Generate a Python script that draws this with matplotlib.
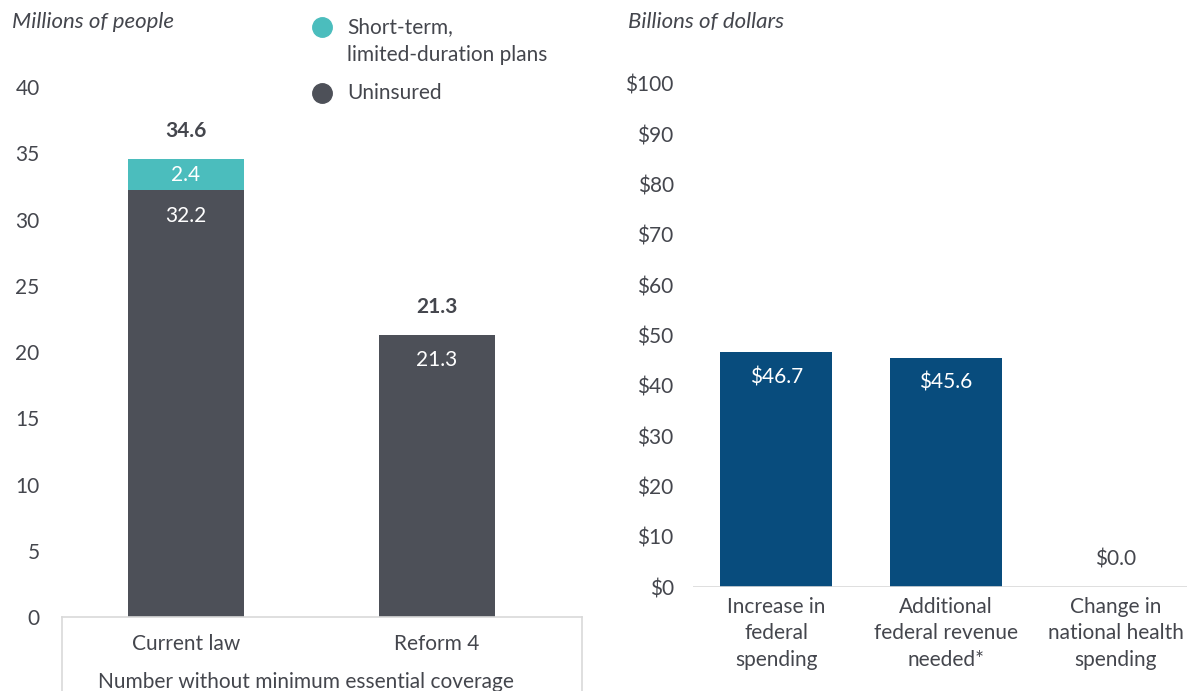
import matplotlib.pyplot as plt
from matplotlib.lines import Line2D

# left panel: people without minimum essential coverage (millions)
cov_cats = ['Current law', 'Reform 4']
uninsured = [32.2, 21.3]
short_term = [2.4, 0.0]
cov_totals = [34.6, 21.3]

# right panel: budget effects (billions of dollars)
cost_cats = ['Increase in\nfederal\nspending', 'Additional\nfederal revenue\nneeded*',
             'Change in\nnational health\nspending']
cost_vals = [46.7, 45.6, 0.0]

teal = '#4bbdbd'
dark = '#4d5058'
navy = '#084c7d'
txt = '#44464d'
grid = '#d9d9d9'

plt.rcParams['font.family'] = ['Lato', 'DejaVu Sans']
fs = 15
fs_it = 16

fig = plt.figure(figsize=(11.87, 6.91), dpi=100)

# ---- left chart
ax1 = fig.add_axes([0.0522, 0.107, 0.438, 0.767])
x1 = range(len(cov_cats))
ax1.bar(x1, uninsured, width=0.46, color=dark)
ax1.bar(x1, short_term, width=0.46, bottom=uninsured, color=teal)
ax1.set_ylim(0, 40)
ax1.set_xlim(-0.494, 1.578)
ax1.set_yticks(range(0, 41, 5))
ax1.set_xticks([])
for s in ax1.spines.values():
    s.set_visible(False)
ax1.tick_params(axis='y', length=0, labelsize=fs, labelcolor=txt, pad=16)
ax1.axhline(0, color=grid, lw=1.2, clip_on=False)
for xx in ax1.get_xlim():
    ax1.plot([xx, xx], [0, -5.6], color=grid, lw=1.2, clip_on=False)

for i in x1:
    ax1.text(i, uninsured[i] - 1.9, f'{uninsured[i]:.1f}', ha='center', va='center',
             color='white', fontsize=fs)
    if short_term[i] > 0:
        ax1.text(i, uninsured[i] + short_term[i] / 2, f'{short_term[i]:.1f}',
                 ha='center', va='center', color='white', fontsize=fs)
    ax1.text(i, cov_totals[i] + 2.1, f'{cov_totals[i]:.1f}', ha='center', va='center',
             color=txt, fontsize=fs, fontweight='bold')
    ax1.text(i, -2.0, cov_cats[i], ha='center', va='center', color=txt, fontsize=fs)
ax1.text(0.478, -4.9, 'Number without minimum essential coverage', ha='center',
         va='center', color=txt, fontsize=fs)

fig.text(12 / 1187, 1 - 22 / 691, 'Millions of people', style='italic',
         ha='left', va='center', color=txt, fontsize=fs_it)

# legend
fig.add_artist(Line2D([322 / 1187], [1 - 27 / 691], marker='o', ms=14, color=teal, lw=0))
fig.add_artist(Line2D([322 / 1187], [1 - 93 / 691], marker='o', ms=14, color=dark, lw=0))
fig.text(347 / 1187, 1 - 41 / 691, 'Short-term,\nlimited-duration plans', ha='left',
         va='center', color=txt, fontsize=fs, linespacing=1.5)
fig.text(347 / 1187, 1 - 93 / 691, 'Uninsured', ha='left', va='center', color=txt, fontsize=fs)

# ---- right chart
ax2 = fig.add_axes([0.584, 0.1505, 0.416, 0.728])
x2 = range(len(cost_cats))
ax2.bar(x2, cost_vals, width=0.66, color=navy)
ax2.set_ylim(0, 100)
ax2.set_xlim(-0.49, 2.42)
ax2.set_yticks(range(0, 101, 10))
ax2.set_yticklabels([f'${v}' for v in range(0, 101, 10)])
ax2.set_xticks(list(x2))
ax2.set_xticklabels(cost_cats, linespacing=1.4)
for s in ax2.spines.values():
    s.set_visible(False)
ax2.tick_params(axis='y', length=0, labelsize=fs, labelcolor=txt, pad=14)
ax2.tick_params(axis='x', length=0, labelsize=fs, labelcolor=txt, pad=7)
ax2.axhline(0, color=grid, lw=1.2)

for i in x2:
    if cost_vals[i] > 5:
        ax2.text(i, cost_vals[i] - 5, f'${cost_vals[i]:.1f}', ha='center', va='center',
                 color='white', fontsize=fs)
    else:
        ax2.text(i, cost_vals[i] + 5.4, f'${cost_vals[i]:.1f}', ha='center', va='center',
                 color=txt, fontsize=fs)

fig.text(628 / 1187, 1 - 22 / 691, 'Billions of dollars', style='italic',
         ha='left', va='center', color=txt, fontsize=fs_it)

fig.savefig('out.png', dpi=100)
